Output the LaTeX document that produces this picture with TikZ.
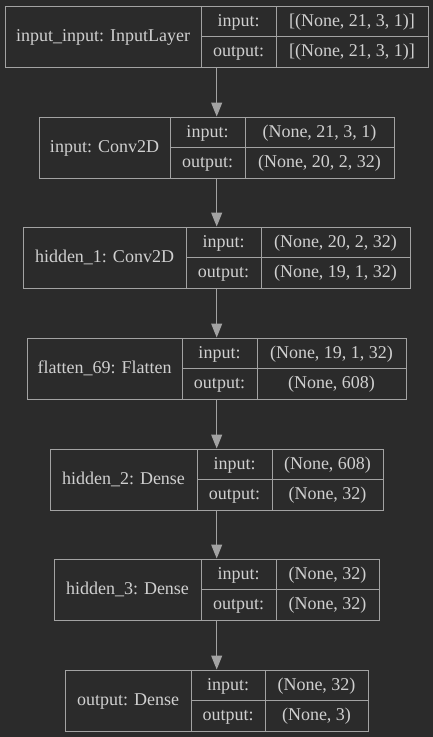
\documentclass[tikz,border=0pt]{standalone}
\usepackage{fontspec}
\setmainfont{Liberation Serif}
\usetikzlibrary{arrows.meta,fit}

\definecolor{bgcol}{HTML}{2B2B2B}
\definecolor{linecol}{HTML}{A3A3A3}
\definecolor{txtcol}{HTML}{D0D0D0}

% one layer: id, x0, x1, x2, x3, top, label, input shape, output shape
\newcommand{\layer}[9]{%
  \node[box, fit={(#2,#6) (#5,#6+61)}] (#1) {};
  \draw[rule] (#3,#6) -- (#3,#6+61) (#4,#6) -- (#4,#6+61) (#3,#6+30.5) -- (#5,#6+30.5);
  \node[txt] (#1-name) at ({(#2+#3)/2},#6+35.5) {#7};
  \node[txt] (#1-inkey) at ({(#3+#4)/2},#6+20) {input:};
  \node[txt] (#1-outkey) at ({(#3+#4)/2},#6+50.5) {output:};
  \node[txt] (#1-in) at ({(#4+#5)/2},#6+20) {#8};
  \node[txt] (#1-out) at ({(#4+#5)/2},#6+50.5) {#9};
}

\begin{document}
\begin{tikzpicture}[x=1pt, y=-1pt,
  box/.style={draw=linecol, line width=1pt, inner sep=0pt},
  rule/.style={draw=linecol, line width=1pt},
  txt/.style={text=txtcol, anchor=base, inner sep=0pt, font=\fontsize{18}{20}\selectfont},
  arr/.style={draw=linecol, line width=1pt, -{Triangle[length=14pt,width=11pt]}}]
\fill[bgcol] (0,0) rectangle (433,737);
\useasboundingbox (0,0) rectangle (433,737);

\layer{inlay}{5}{201}{276}{428}{6}{input\_input: InputLayer}{[(None, 21, 3, 1)]}{[(None, 21, 3, 1)]}
\layer{conv1}{39}{170}{245}{394}{117}{input: Conv2D}{(None, 21, 3, 1)}{(None, 20, 2, 32)}
\layer{conv2}{23}{186}{261}{410}{227}{hidden\_1: Conv2D}{(None, 20, 2, 32)}{(None, 19, 1, 32)}
\layer{flat}{27}{182}{257}{406}{338}{flatten\_69: Flatten}{(None, 19, 1, 32)}{(None, 608)}
\layer{dense1}{50}{197}{272}{383}{449}{hidden\_2: Dense}{(None, 608)}{(None, 32)}
\layer{dense2}{54}{201}{276}{379}{559}{hidden\_3: Dense}{(None, 32)}{(None, 32)}
\layer{dense3}{65}{191}{265}{368}{670}{output: Dense}{(None, 32)}{(None, 3)}

\coordinate (axis) at (216.7,0);
\foreach \a/\b in {inlay/conv1, conv1/conv2, conv2/flat, flat/dense1, dense1/dense2, dense2/dense3}
  \draw[arr] (\a.south -| axis) -- (\b.north -| axis);
\end{tikzpicture}
\end{document}
